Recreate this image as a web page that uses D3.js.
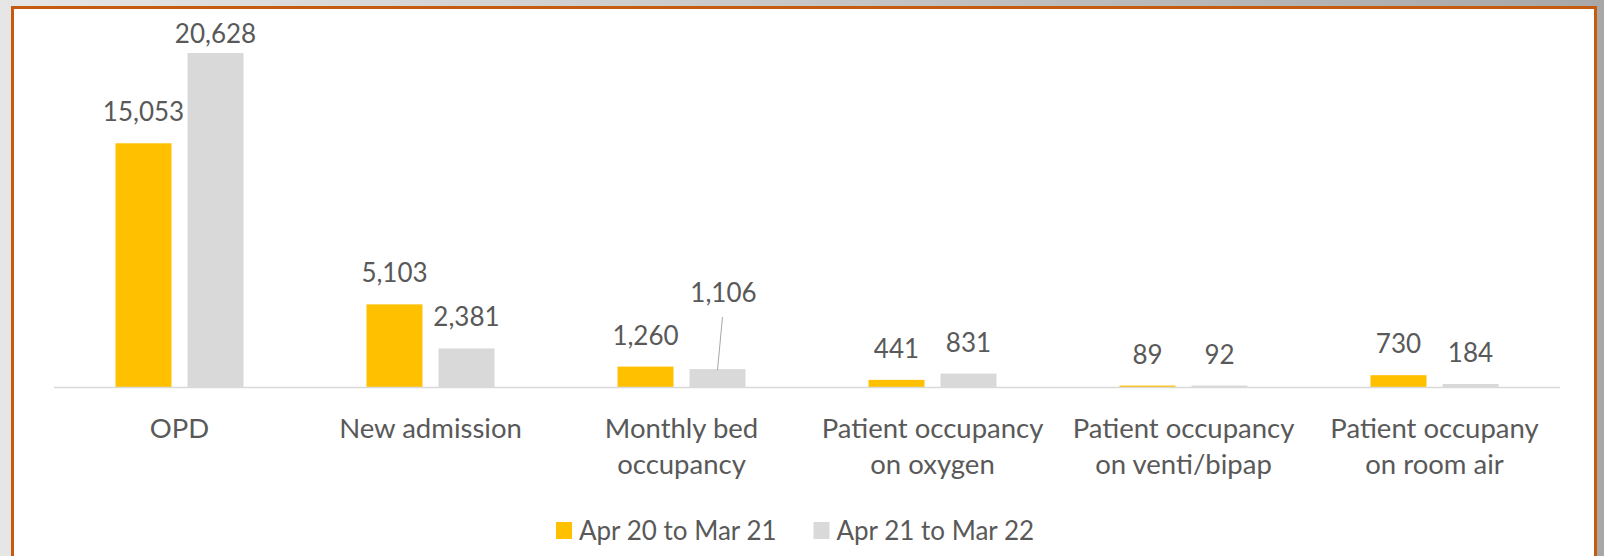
<!DOCTYPE html>
<html>
<head>
<meta charset="utf-8">
<script src="https://cdn.jsdelivr.net/npm/d3@7"></script>
<style>
  body { margin: 0; }
  svg { display: block; }
  text { font-family: Lato, "Open Sans", sans-serif; fill: #595959; }
</style>
</head>
<body>
<svg width="1604" height="556"></svg>
<script>
var categories = ["OPD", "New admission", "Monthly bed\noccupancy", "Patient occupancy\non oxygen",
                  "Patient occupancy\non venti/bipap", "Patient occupany\non room air"];
var seriesNames = ["Apr 20 to Mar 21", "Apr 21 to Mar 22"];
var series1 = [15053, 5103, 1260, 441, 89, 730];
var series2 = [20628, 2381, 1106, 831, 92, 184];
var colors = ["#ffc000", "#d9d9d9"];

var svg = d3.select("svg"),
	W = +svg.attr("width"),
	H = +svg.attr("height"),
	baseY = 387,
	topY = 53,
	labelGap = 22;

// page backdrop + frame
var defs = svg.append("defs");
var grad = defs.append("linearGradient").attr("id", "bg").attr("x1", "0").attr("x2", "1").attr("y1", "0").attr("y2", "0");
grad.append("stop").attr("offset", "0%").attr("stop-color", "#e6e6e6");
grad.append("stop").attr("offset", "100%").attr("stop-color", "#a8a8a8");
svg.append("rect").attr("width", W).attr("height", H).attr("fill", "url(#bg)");
svg.append("rect")
	.attr("x", 12.5).attr("y", 7.5)
	.attr("width", 1583).attr("height", H + 20)
	.attr("fill", "#fff")
	.attr("stroke", "#c55a11")
	.attr("stroke-width", 3);

var table = categories.map(function(c, i) {
	return {cat: c, values: [series1[i], series2[i]]};
});

var x0 = d3.scaleBand().domain(categories).range([54, 1560]).paddingInner(0.49).paddingOuter(0.245),
	x1 = d3.scaleBand().domain(d3.range(seriesNames.length)).range([0, x0.bandwidth()]).paddingInner(0.222),
	y = d3.scaleLinear().domain([0, d3.max(series2.concat(series1))]).range([baseY, topY]);

var g = svg.append("g");

var groups = g.selectAll(".cat")
	.data(table)
	.enter().append("g")
	  .attr("class", "cat")
	  .attr("transform", function(d) { return "translate(" + x0(d.cat) + ",0)"; });

groups.selectAll("rect")
	.data(function(d) { return d.values; })
	.enter().append("rect")
	  .attr("x", function(d, i) { return x1(i); })
	  .attr("width", x1.bandwidth())
	  .attr("y", function(d) { return y(d); })
	  .attr("height", function(d) { return baseY - y(d); })
	  .attr("fill", function(d, i) { return colors[i]; });

// baseline
g.append("line")
	.attr("x1", 54).attr("x2", 1560)
	.attr("y1", baseY + 0.5).attr("y2", baseY + 0.5)
	.attr("stroke", "#d9d9d9")
	.attr("stroke-width", 1.5);

// value labels; one label is pulled up with a leader line
var callout = {cat: 2, s: 1, dx: 6, dy: -45};
groups.each(function(d, ci) {
	var grp = d3.select(this);
	d.values.forEach(function(v, si) {
		var cx = x1(si) + x1.bandwidth() / 2,
			ly = Math.max(y(v) - labelGap, 43);
		if (ci === callout.cat && si === callout.s) {
			cx += callout.dx;
			ly += callout.dy;
			grp.append("line")
				.attr("x1", cx - 1).attr("y1", ly + 15)
				.attr("x2", cx - 6).attr("y2", y(v) + 1)
				.attr("stroke", "#a6a6a6").attr("stroke-width", 1);
		}
		grp.append("text")
			.attr("x", cx).attr("y", ly)
			.attr("text-anchor", "middle")
			.style("font-size", "26px")
			.text(d3.format(",")(v));
	});
});

// category labels
groups.append("text")
	.attr("x", x0.bandwidth() / 2)
	.attr("y", 437.5)
	.attr("text-anchor", "middle")
	.style("font-size", "27.5px")
	.selectAll("tspan")
	.data(function(d) { return d.cat.split("\n"); })
	.enter().append("tspan")
	  .attr("x", x0.bandwidth() / 2)
	  .attr("dy", function(d, i) { return i ? 36.5 : 0; })
	  .text(function(d) { return d; });

// legend
var legend = svg.append("g").selectAll("g")
	.data(seriesNames)
	.enter().append("g")
	  .attr("transform", function(d, i) { return "translate(" + (556 + i * 257.5) + ",0)"; });
legend.append("rect")
	.attr("y", 522).attr("width", 16).attr("height", 17)
	.attr("fill", function(d, i) { return colors[i]; });
legend.append("text")
	.attr("x", 23).attr("y", 540)
	.style("font-size", "26px")
	.text(function(d) { return d; });
</script>
</body>
</html>
